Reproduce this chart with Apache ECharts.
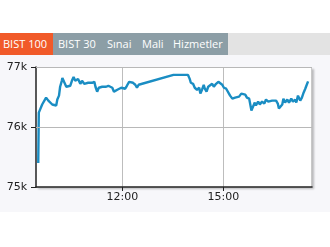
<!DOCTYPE html>
<html><head><meta charset="utf-8">
<script src="https://cdn.jsdelivr.net/npm/echarts@6/dist/echarts.min.js"></script>
<style>
html,body{margin:0;padding:0;width:330px;height:247px;background:#fff;overflow:hidden;font-family:"Open Sans",sans-serif;}
#tabs{position:absolute;left:0;top:33px;width:330px;height:22px;background:#e3e3e3;}
#gray{position:absolute;left:53px;top:0;width:175px;height:22px;background:#8c9ea6;}
#orange{position:absolute;left:0;top:0;width:53px;height:22px;background:#f15a29;}
.t{position:absolute;top:3px;font-size:11px;line-height:16px;color:#fff;white-space:nowrap;}
#panel{position:absolute;left:0;top:55px;width:330px;height:157px;background:#f7f7fa;}
#plotbg{position:absolute;left:36px;top:67px;width:276px;height:120px;background:#fff;box-sizing:border-box;border-right:1px solid #c8c8c8;box-shadow:1.5px 1.5px 2px rgba(0,0,0,0.25);}
#chart{position:absolute;left:0;top:0;width:330px;height:247px;}
</style></head>
<body>
<div id="panel"></div>
<div id="plotbg"></div>
<div id="tabs"><div id="orange"></div><div id="gray"></div>
<span class="t" style="left:3px">BIST 100</span>
<span class="t" style="left:58px">BIST 30</span>
<span class="t" style="left:107px">Sınai</span>
<span class="t" style="left:142px">Mali</span>
<span class="t" style="left:173px">Hizmetler</span>
</div>
<div id="chart"></div>
<script>
const times = ["09:30","09:31","09:33","09:37","09:40","09:44","09:48","09:51","09:55","09:58",
"10:02","10:04","10:07","10:09","10:12","10:13","10:16","10:20","10:23","10:27",
"10:30","10:33","10:36","10:38","10:41","10:45","10:48","10:52","10:55","10:59",
"11:02","11:06","11:10","11:12","11:15","11:18","11:20","11:24","11:27","11:31",
"11:35","11:38","11:42","11:45","11:48","11:51","11:54","11:58","12:01","12:05",
"12:08","12:12","12:15","12:19","12:23","12:26","12:29","12:31","13:31","13:57",
"14:00","14:02","14:06","14:09","14:13","14:17","14:19","14:22","14:25","14:27",
"14:30","14:33","14:36","14:40","14:43","14:47","14:51","14:54","14:58","15:01",
"15:05","15:08","15:12","15:16","15:18","15:21","15:24","15:28","15:32","15:35",
"15:39","15:42","15:46","15:48","15:50","15:53","15:56","15:58","16:02","16:05",
"16:09","16:13","16:16","16:20","16:23","16:27","16:30","16:34","16:37","16:39",
"16:42","16:45","16:47","16:50","16:54","16:57","17:01","17:04","17:08","17:10",
"17:13","17:17","17:20","17:23","17:26","17:28","17:31"];
const values = [75400,76240,76260,76375,76407,76490,76440,76457,76375,76407,
76358,76457,76523,76671,76770,76819,76753,76671,76704,76687,
76770,76835,76770,76737,76802,76720,76770,76720,76753,76737,
76753,76737,76753,76671,76589,76654,76621,76671,76638,76671,
76687,76704,76654,76589,76556,76621,76605,76654,76621,76638,
76687,76753,76720,76737,76704,76654,76704,76671,76868,76868,
76802,76737,76720,76654,76621,76654,76556,76621,76704,76638,
76589,76671,76687,76720,76671,76720,76753,76720,76704,76654,
76638,76605,76523,76473,76440,76490,76523,76506,76556,76523,
76539,76490,76473,76375,76276,76342,76407,76358,76424,76375,
76424,76391,76457,76424,76391,76440,76407,76440,76391,76309,
76276,76375,76473,76407,76457,76407,76473,76424,76457,76407,
76523,76440,76490,76572,76638,76687,76760];
const yTicks = [75000, 76000, 77000];
const yMajorGrid = [76000, 77000];
const xTickLabels = ["12:00", "15:00"];

const toMin = s => { const p = s.split(':'); return +p[0]*60 + +p[1]; };
const fmt = m => String(Math.floor(m/60)).padStart(2,'0') + ':' + String(Math.round(m%60)).padStart(2,'0');
const xTicks = xTickLabels.map(toMin);
const data = times.map((t,i) => [toMin(t), values[i]]);
const yMin = yTicks[0], yMax = yTicks[yTicks.length-1];

const chart = echarts.init(document.getElementById('chart'), null, {renderer:'canvas'});
chart.setOption({
  animation:false,
  backgroundColor:'transparent',
  grid:{left:36,right:18,top:67,bottom:60,show:false},
  xAxis:{type:'value',min:566,max:1058,
    axisLine:{show:true,lineStyle:{color:'#222',width:1.5}},
    axisTick:{show:true,length:4,customValues:xTicks,lineStyle:{color:'#222'}},
    axisLabel:{customValues:xTicks,formatter:v=>fmt(v),margin:5,color:'#222',fontSize:11,fontFamily:'DejaVu Sans'},
    splitLine:{show:true,lineStyle:{color:'#bdbdbd',width:1}}
  },
  yAxis:{type:'value',min:yMin,max:yMax,interval:200,
    axisLine:{show:true,lineStyle:{color:'#222',width:1.5}},
    axisTick:{show:true,length:5,customValues:yTicks,lineStyle:{color:'#222'}},
    axisLabel:{customValues:yTicks,formatter:v=>(v/1000)+'k',margin:9,color:'#222',fontSize:11,fontFamily:'DejaVu Sans',padding:[6,0,0,0]},
    splitLine:{show:true,lineStyle:{color:'#d2d2d2',width:1}}
  },
  series:[
    {type:'line',data:data,showSymbol:false,z:3,
     lineStyle:{color:'#1a8dc3',width:2.4},itemStyle:{color:'#1a8dc3'},
     markLine:{silent:true,symbol:'none',label:{show:false},animation:false,
       lineStyle:{color:'#b8b8b8',width:1,type:'solid'},
       data:yMajorGrid.map(v => ({yAxis:v}))}}
  ]
});
</script>
</body></html>
